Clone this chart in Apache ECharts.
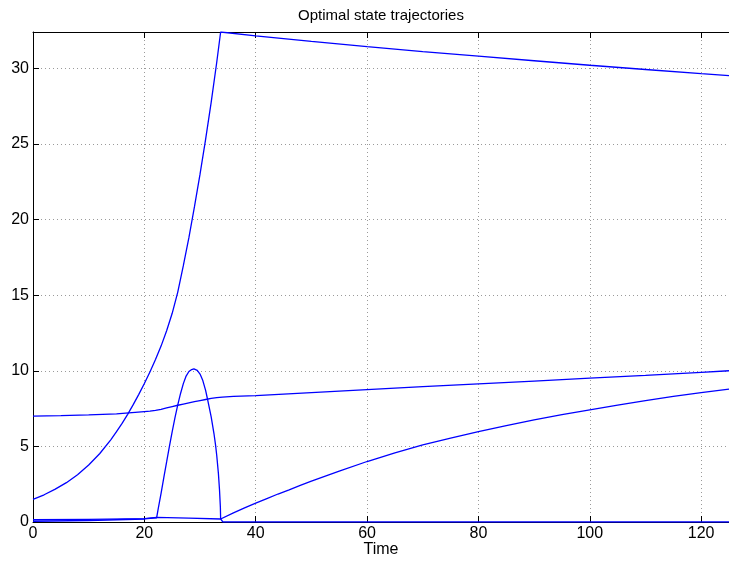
<!DOCTYPE html>
<html>
<head>
<meta charset="utf-8">
<script src="https://cdn.jsdelivr.net/npm/echarts@6/dist/echarts.min.js"></script>
<style>
  html, body { margin: 0; padding: 0; background: #fff; }
  #chart { width: 729px; height: 561px; }
</style>
</head>
<body>
<div id="chart"></div>
<script>
// state 1: grows fast, then slowly decays
var t1 = [0, 2, 4, 6, 8, 10, 12, 14, 15, 16, 17, 18, 19, 20, 21, 22, 23, 24, 25, 26, 27, 28, 29, 30, 31, 32, 33, 33.7,
          40, 50, 60, 70, 80, 90, 100, 110, 120, 125];
var x1 = [1.5, 1.8, 2.17, 2.6, 3.13, 3.77, 4.53, 5.45, 5.97, 6.52, 7.12, 7.76, 8.44, 9.16, 9.92, 10.74, 11.63, 12.65, 13.8, 15.2, 16.95, 18.8, 20.85, 23.0, 25.3, 27.75, 30.4, 32.4,
          32.15, 31.78, 31.43, 31.1, 30.8, 30.5, 30.2, 29.92, 29.65, 29.52];
// state 2: slow rise from 7 to 10
var t2 = [0, 5, 10, 15, 20, 21, 22, 23, 24, 25, 26, 27, 28, 29, 30, 31, 32, 33, 34, 36, 40, 50, 60, 70, 80, 90, 100, 110, 120, 125];
var x2 = [7.0, 7.03, 7.08, 7.15, 7.3, 7.33, 7.38, 7.45, 7.54, 7.63, 7.72, 7.8, 7.88, 7.96, 8.03, 8.1, 8.17, 8.22, 8.26, 8.3, 8.36, 8.55, 8.75, 8.95, 9.13, 9.32, 9.51, 9.7, 9.9, 10.0];
// state 3: hump between 22 and 34, zero afterwards
var t3 = [0, 10, 20, 22.2, 22.5, 23, 23.5, 24, 24.5, 25, 25.5, 26, 26.5, 27, 27.5, 28, 28.5, 28.9, 29.5, 30, 30.5, 31, 31.3, 31.5, 32, 32.5, 32.8, 33, 33.3, 33.5, 33.65, 33.7, 34.1, 125];
var x3 = [0.05, 0.1, 0.2, 0.28, 0.9, 1.9, 2.95, 3.97, 5.0, 5.98, 6.9, 7.75, 8.5, 9.15, 9.65, 9.95, 10.08, 10.12, 10.02, 9.78, 9.35, 8.7, 8.2, 7.85, 6.95, 5.85, 5.05, 4.4, 3.2, 2.1, 1.0, 0.2, 0, 0];
// state 4: near zero, then saturating rise
var t4 = [0, 10, 20, 22.2, 28, 33.7, 36, 38, 40, 42, 44, 46, 48, 50, 55, 60, 65, 70, 75, 80, 85, 90, 95, 100, 105, 110, 115, 120, 125];
var x4 = [0.15, 0.18, 0.22, 0.3, 0.26, 0.2, 0.6, 0.93, 1.25, 1.55, 1.85, 2.13, 2.42, 2.7, 3.37, 4.0, 4.57, 5.1, 5.55, 5.97, 6.38, 6.75, 7.1, 7.42, 7.73, 8.02, 8.3, 8.56, 8.79];

var xTicks = [0, 20, 40, 60, 80, 100, 120];
var yTicks = [0, 5, 10, 15, 20, 25, 30];

function zip(t, v) {
  var out = [];
  for (var i = 0; i < t.length; i++) out.push([t[i], v[i]]);
  return out;
}

var font = 'Liberation Sans, Arial, Helvetica, sans-serif';
var grid = { type: [1, 3], color: '#9a9a9a', width: 1 };

var chart = echarts.init(document.getElementById('chart'));

function lineSeries(t, v) {
  return {
    type: 'line',
    data: zip(t, v),
    showSymbol: false,
    symbol: 'none',
    lineStyle: { color: '#0000ff', width: 1.3 },
    z: 3
  };
}

var option = {
  animation: false,
  backgroundColor: '#fff',
  grid: { left: 33, right: 0, top: 32, bottom: 39, containLabel: false, outerBoundsMode: 'none' },
  xAxis: [{
    type: 'value',
    min: xTicks[0], max: 125, interval: xTicks[1] - xTicks[0],
    position: 'bottom',
    name: 'Time', nameLocation: 'middle', nameGap: 20, nameMoveOverlap: false,
    nameTextStyle: { color: '#000', fontSize: 16, fontFamily: font },
    axisLine: { show: true, onZero: false, lineStyle: { color: '#000', width: 1 } },
    axisTick: { show: true, inside: true, length: 6, lineStyle: { color: '#000' } },
    axisLabel: { color: '#000', fontSize: 16, fontFamily: font, margin: 4, showMaxLabel: false },
    splitLine: { show: true, lineStyle: grid }
  }, {
    type: 'value',
    min: xTicks[0], max: 125, interval: xTicks[1] - xTicks[0],
    position: 'top',
    name: 'Optimal state trajectories', nameLocation: 'middle', nameGap: 9, nameMoveOverlap: false,
    nameTextStyle: { color: '#000', fontSize: 15, fontFamily: font },
    axisLine: { show: true, onZero: false, lineStyle: { color: '#000', width: 1 } },
    axisTick: { show: true, inside: true, length: 6, lineStyle: { color: '#000' } },
    axisLabel: { show: false },
    splitLine: { show: false }
  }],
  yAxis: {
    type: 'value',
    min: yTicks[0], max: 32.4, interval: yTicks[1] - yTicks[0],
    nameMoveOverlap: false,
    axisLine: { show: true, onZero: false, lineStyle: { color: '#000', width: 1 } },
    axisTick: { show: true, inside: true, length: 6, lineStyle: { color: '#000' } },
    axisLabel: { color: '#000', fontSize: 16, fontFamily: font, margin: 4, showMaxLabel: false },
    splitLine: { show: true, lineStyle: grid }
  },
  series: [
    lineSeries(t1, x1),
    lineSeries(t2, x2),
    lineSeries(t3, x3),
    lineSeries(t4, x4)
  ]
};

chart.setOption(option);
</script>
</body>
</html>
